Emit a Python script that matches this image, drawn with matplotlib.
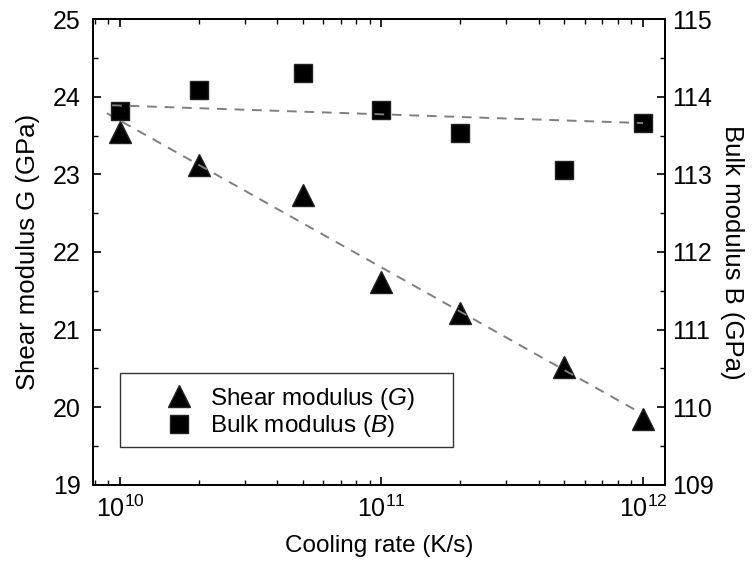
import matplotlib.pyplot as plt
import numpy as np
from matplotlib.patches import Rectangle
from matplotlib.ticker import LogLocator, MultipleLocator, NullFormatter

# Arial 风格字体
plt.rcParams['font.family'] = ['Liberation Sans', 'DejaVu Sans']
plt.rcParams['mathtext.fontset'] = 'custom'
plt.rcParams['mathtext.rm'] = 'Liberation Sans'
plt.rcParams['mathtext.it'] = 'Liberation Sans:italic'

# 数据
cooling_rate = [1e10, 2e10, 5e10, 1e11, 2e11, 5e11, 1e12]
shear_G = [23.55, 23.12, 22.73, 21.62, 21.22, 20.52, 19.85]
bulk_B = [113.81, 114.09, 114.30, 113.83, 113.53, 113.06, 113.66]

# 拟合线 (体模量拟合线端点, 取自原图)
fit_x = [10**9.96, 1e12]
bulk_fit_ends = [113.89, 113.66]

fig = plt.figure(figsize=(7.53, 5.64), dpi=100)
ax = fig.add_axes([0.1235, 0.1401, 0.7596, 0.8262])
ax_r = ax.twinx()

# 剪切模量线性(对数x)拟合
coef = np.polyfit(np.log10(cooling_rate), shear_G, 1)
fx = np.logspace(np.log10(fit_x[0]) - 0.01, np.log10(fit_x[1]) - 0.03, 50)
ax.plot(fx, np.polyval(coef, np.log10(fx)), linestyle=(0, (5, 4)), color='#7f7f7f',
        linewidth=1.4, zorder=3)
bcoef = np.polyfit(np.log10(fit_x), bulk_fit_ends, 1)
bx = np.logspace(np.log10(fit_x[0]) + 0.01, np.log10(fit_x[1]), 50)
ax_r.plot(bx, np.polyval(bcoef, np.log10(bx)), linestyle=(0, (5, 4)), color='#7f7f7f',
          linewidth=1.4, zorder=3)

h1, = ax.plot(cooling_rate, shear_G, linestyle='none', marker='^', markersize=16.5,
              color='black', markeredgecolor='#222222', label='Shear modulus ($G$)', zorder=2)
h2, = ax_r.plot(cooling_rate, bulk_B, linestyle='none', marker='s', markersize=12.5,
                color='black', markeredgecolor='#222222', label='Bulk modulus ($B$)', zorder=2)

ax.set_xscale('log')
ax.set_xlim(10**9.897, 10**12.084)
ax.set_ylim(19, 25)
ax_r.set_ylim(109, 115)

ax.xaxis.set_major_locator(LogLocator(base=10, numticks=10))
ax.xaxis.set_minor_locator(LogLocator(base=10, subs=np.arange(2, 10), numticks=10))
ax.xaxis.set_minor_formatter(NullFormatter())
ax.yaxis.set_major_locator(MultipleLocator(1))
ax.yaxis.set_minor_locator(MultipleLocator(0.5))
ax_r.yaxis.set_major_locator(MultipleLocator(1))
ax_r.yaxis.set_minor_locator(MultipleLocator(0.5))

ax.tick_params(axis='x', which='both', direction='in', top=True, labelsize=18, pad=8)
ax.tick_params(axis='y', which='both', direction='in', labelsize=18, pad=9)
ax_r.tick_params(axis='y', which='both', direction='in', labelsize=18, pad=5)
for a in (ax, ax_r):
    a.tick_params(which='major', length=6, width=1.2)
    a.tick_params(which='minor', length=3.5, width=1.0)
    for s in a.spines.values():
        s.set_linewidth(1.3)

ax.set_xlabel('Cooling rate (K/s)', fontsize=17.5, labelpad=9)
ax.set_ylabel('Shear modulus G (GPa)', fontsize=18.5, labelpad=9)
ax_r.set_ylabel('Bulk modulus B (GPa)', fontsize=18.5, rotation=270, labelpad=22)

# 图例外框
frame = Rectangle((0.047, 0.0815), 0.582, 0.1585, transform=ax_r.transAxes,
                  facecolor='white', edgecolor='#333333', linewidth=1.0, zorder=4)
ax_r.add_patch(frame)

leg = ax_r.legend(handles=[h1, h2], loc='center left', bbox_to_anchor=(0.109, 0.1556),
                  borderaxespad=0, fontsize=17.5, frameon=False,
                  handlelength=1.96, handletextpad=0.3,
                  borderpad=0, labelspacing=0.08, numpoints=1)
leg.set_zorder(5)

plt.savefig('out.png', dpi=100, facecolor='white')
